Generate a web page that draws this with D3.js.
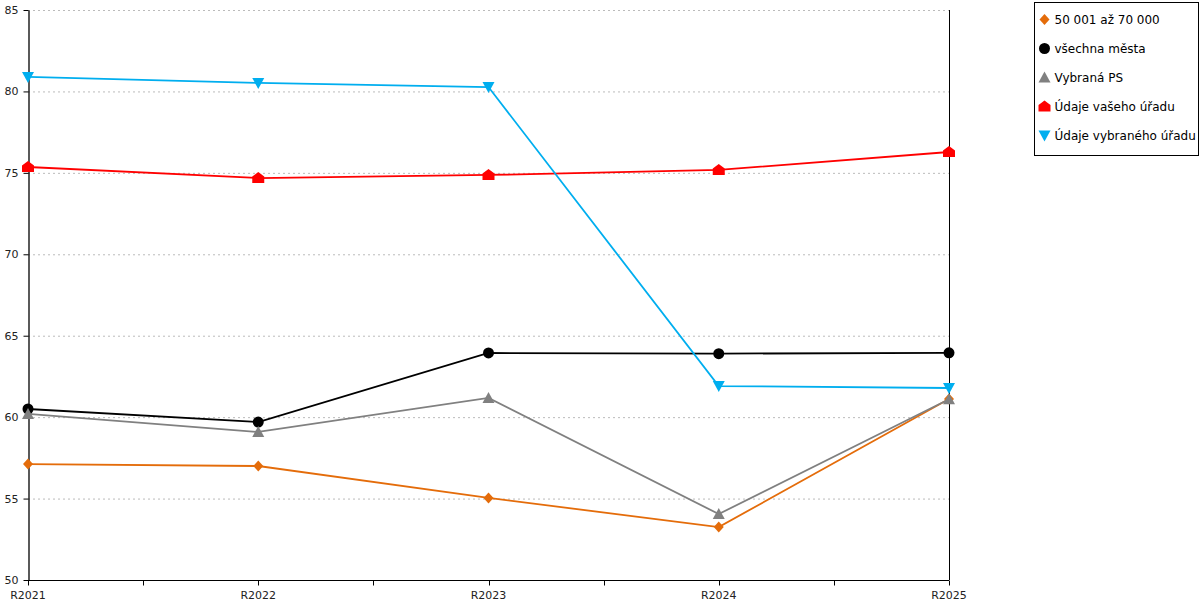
<!DOCTYPE html>
<html>
<head>
<meta charset="utf-8">
<script src="https://cdn.jsdelivr.net/npm/d3@7"></script>
<style>
  body { margin: 0; background: #fff; }
  svg { font-family: "DejaVu Sans", Verdana, sans-serif; }
</style>
</head>
<body>
<div id="chart"></div>
<script>
// categories and series
var years = ["R2021", "R2022", "R2023", "R2024", "R2025"];
var yTicks = [50, 55, 60, 65, 70, 75, 80, 85];

var size50to70 = [57.12, 57.0, 55.04, 53.25, 61.11];
var allCities = [60.5, 59.7, 63.94, 63.9, 63.95];
var selectedPS = [60.2, 59.09, 61.18, 54.05, 61.1];
var yourOffice = [75.36, 74.68, 74.87, 75.18, 76.28];
var selectedOffice = [80.89, 80.52, 80.27, 61.91, 61.79];

var seriesNames = ["50 001 až 70 000", "všechna města", "Vybraná PS", "Údaje vašeho úřadu", "Údaje vybraného úřadu"];

var series = [
    { name: seriesNames[0], values: size50to70, color: "#E46C0A", shape: "diamond" },
    { name: seriesNames[1], values: allCities, color: "#000000", shape: "circle" },
    { name: seriesNames[2], values: selectedPS, color: "#808080", shape: "up" },
    { name: seriesNames[3], values: yourOffice, color: "#FF0000", shape: "house" },
    { name: seriesNames[4], values: selectedOffice, color: "#00AEEF", shape: "down" }
];

var margin = { top: 10, right: 251, bottom: 20, left: 28 };
var width = 1200 - margin.left - margin.right,
    height = 600 - margin.top - margin.bottom;

var svg = d3.select("#chart").append("svg")
    .attr("width", 1200)
    .attr("height", 600);

var g = svg.append("g")
    .attr("transform", "translate(" + margin.left + "," + margin.top + ")");

var x = d3.scalePoint()
    .domain(years)
    .range([0, width]);

var y = d3.scaleLinear()
    .domain([50, 85])
    .range([height, 0]);

// marker shapes
function markerPath(shape) {
    if (shape === "diamond") return "M0,-5.5L5,0L0,5.5L-5,0Z";
    if (shape === "circle") return d3.symbol().type(d3.symbolCircle).size(95)();
    if (shape === "up") return "M0,-6L6,5L-6,5Z";
    if (shape === "down") return "M-6,-5L6,-5L0,6Z";
    if (shape === "house") return "M0,-6L6,-1.5L6,5L-6,5L-6,-1.5Z";
}

// grid
g.append("g")
    .selectAll("line")
    .data(yTicks)
    .enter().append("line")
    .attr("x1", 0)
    .attr("x2", width)
    .attr("y1", function(d) { return y(d) + 0.5; })
    .attr("y2", function(d) { return y(d) + 0.5; })
    .attr("stroke", "#bbbbbb")
    .attr("stroke-dasharray", "2,3");

// y axis
var yAxis = d3.axisLeft(y).tickValues(yTicks).tickSize(5).tickSizeOuter(0);
g.append("g")
    .attr("class", "y-axis")
    .attr("transform", "translate(0.5,0)")
    .call(yAxis)
    .call(function(s) {
        s.selectAll("text").attr("font-size", 11).attr("fill", "#222")
            .attr("font-family", "DejaVu Sans, sans-serif")
            .attr("x", -10).attr("dy", "0.32em").attr("text-anchor", "end");
        s.selectAll("line").attr("stroke", "#000");
        s.select(".domain").attr("stroke", "#000").attr("stroke-width", 1.3);
    });

// right border line
g.append("line")
    .attr("x1", width + 0.5).attr("x2", width + 0.5)
    .attr("y1", 0).attr("y2", height)
    .attr("stroke", "#000");

// x axis with ticks at categories and halfway between
var step = x.step();
var xTickPos = [];
years.forEach(function(d, i) {
    xTickPos.push(x(d));
    if (i < years.length - 1) xTickPos.push(x(d) + step / 2);
});

var xg = g.append("g")
    .attr("transform", "translate(0," + (height + 0.5) + ")");
xg.append("line")
    .attr("x1", 0).attr("x2", width)
    .attr("stroke", "#000");
xg.selectAll(".tick")
    .data(xTickPos)
    .enter().append("line")
    .attr("x1", function(d) { return Math.round(d) + 0.5; })
    .attr("x2", function(d) { return Math.round(d) + 0.5; })
    .attr("y1", 0).attr("y2", 5)
    .attr("stroke", "#000");
xg.selectAll(".label")
    .data(years)
    .enter().append("text")
    .attr("x", function(d) { return x(d); })
    .attr("y", 18)
    .attr("text-anchor", "middle")
    .attr("font-size", 11)
    .attr("fill", "#222")
    .text(function(d) { return d; });

// lines
var line = d3.line()
    .x(function(d, i) { return x(years[i]); })
    .y(function(d) { return y(d); });

series.forEach(function(s) {
    g.append("path")
        .datum(s.values)
        .attr("fill", "none")
        .attr("stroke", s.color)
        .attr("stroke-width", 1.8)
        .attr("d", line);
});

series.forEach(function(s) {
    g.selectAll(".m-" + s.shape)
        .data(s.values)
        .enter().append("path")
        .attr("transform", function(d, i) { return "translate(" + x(years[i]) + "," + y(d) + ")"; })
        .attr("d", markerPath(s.shape))
        .attr("fill", s.color);
});

// legend
var legend = svg.append("g")
    .attr("transform", "translate(1034.5,2.5)");
legend.append("rect")
    .attr("width", 164)
    .attr("height", 153)
    .attr("fill", "#fff")
    .attr("stroke", "#000");

var items = legend.selectAll(".item")
    .data(series)
    .enter().append("g")
    .attr("transform", function(d, i) { return "translate(10," + (17 + i * 29) + ")"; });
items.append("path")
    .attr("d", function(d) { return markerPath(d.shape); })
    .attr("fill", function(d) { return d.color; });
items.append("text")
    .attr("x", 10)
    .attr("dy", "0.35em")
    .attr("font-size", 12)
    .attr("fill", "#000")
    .text(function(d) { return d.name; });
</script>
</body>
</html>
